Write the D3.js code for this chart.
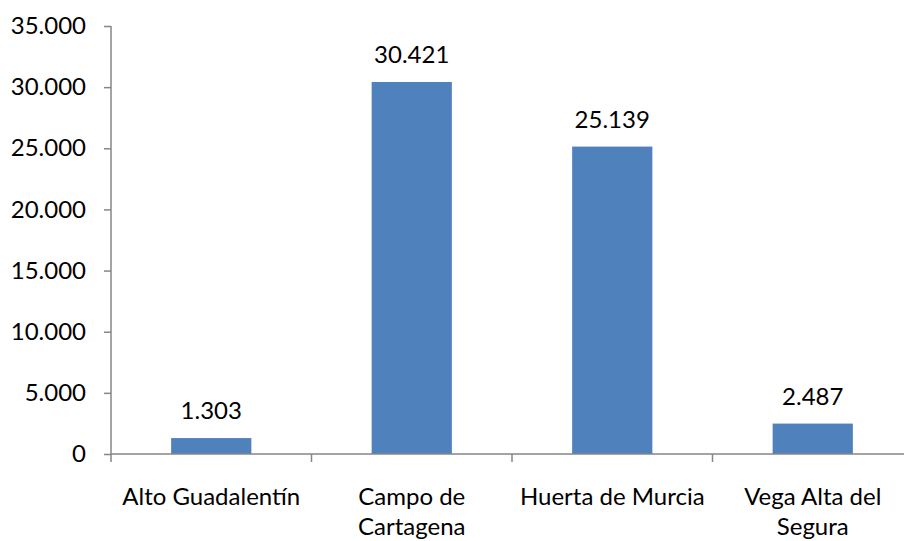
<!DOCTYPE html>
<html>
<head>
<meta charset="utf-8">
<script src="https://cdn.jsdelivr.net/npm/d3@7"></script>
<style>
    body { margin: 0; background: #fff; }
    svg text { font-family: Lato, "Open Sans", sans-serif; fill: #000; }
</style>
</head>
<body>
<div id="chart"></div>
<script>
var categories = [["Alto Guadalentín"], ["Campo de", "Cartagena"], ["Huerta de Murcia"], ["Vega Alta del", "Segura"]]
var values = [1303, 30421, 25139, 2487]
var yTicks = [0, 5000, 10000, 15000, 20000, 25000, 30000, 35000]

var width = 904, height = 541
var plotLeft = 111, plotRight = 913, plotTop = 26, plotBottom = 454
var fontSize = 24

var svg = d3.select('#chart').append('svg').attr('width', width).attr('height', height)

var x = d3.scaleBand().domain(d3.range(categories.length)).range([plotLeft, plotRight]).paddingInner(0.6).paddingOuter(0.3)
var y = d3.scaleLinear().domain([0, 35000]).range([plotBottom, plotTop])

// formato español: punto como separador de miles
var fmt = function (d) {
    return d3.format(',')(d).replace(/,/g, '.')
}

svg.selectAll('rect.bar').data(values).enter().append('rect')
    .attr('class', 'bar')
    .attr('x', function (d, i) { return x(i) })
    .attr('y', function (d) { return y(d) })
    .attr('width', x.bandwidth())
    .attr('height', function (d) { return plotBottom - y(d) })
    .attr('fill', '#4F81BD')

svg.selectAll('text.value').data(values).enter().append('text')
    .attr('class', 'value')
    .attr('x', function (d, i) { return x(i) + x.bandwidth() / 2 })
    .attr('y', function (d) { return y(d) - 19 })
    .attr('text-anchor', 'middle')
    .style('font-size', fontSize + 'px')
    .text(fmt)

// eje y
var yAxis = svg.append('g').attr('transform', 'translate(' + plotLeft + ',0)')
    .call(d3.axisLeft(y).tickValues(yTicks).tickSize(7).tickPadding(18).tickFormat(fmt))
yAxis.selectAll('text').style('font-size', fontSize + 'px').attr('fill', '#000')
yAxis.selectAll('line').attr('stroke', '#868686').attr('stroke-width', 1.5)
yAxis.select('.domain').attr('stroke', '#868686').attr('stroke-width', 1.5).attr('d', 'M0,' + plotTop + 'V' + plotBottom)

// eje x con marcas entre categorías
var xEdge = d3.scaleLinear().domain([0, categories.length]).range([plotLeft, plotRight])
var xAxis = svg.append('g').attr('transform', 'translate(0,' + plotBottom + ')')
xAxis.append('line').attr('x1', plotLeft).attr('x2', plotRight).attr('stroke', '#868686').attr('stroke-width', 1.5)
xAxis.selectAll('line.tick').data(d3.range(categories.length + 1)).enter().append('line')
    .attr('class', 'tick')
    .attr('x1', function (d) { return xEdge(d) }).attr('x2', function (d) { return xEdge(d) })
    .attr('y1', 0).attr('y2', 8)
    .attr('stroke', '#868686').attr('stroke-width', 1.5)

var labels = svg.selectAll('text.cat').data(categories).enter().append('text')
    .attr('class', 'cat')
    .attr('text-anchor', 'middle')
    .style('font-size', fontSize + 'px')
labels.selectAll('tspan').data(function (d, i) {
    return d.map(function (line) { return {line: line, i: i} })
}).enter().append('tspan')
    .attr('x', function (d) { return x(d.i) + x.bandwidth() / 2 })
    .attr('y', function (d, j) { return plotBottom + 51 + j * 30 })
    .text(function (d) { return d.line })
</script>
</body>
</html>
